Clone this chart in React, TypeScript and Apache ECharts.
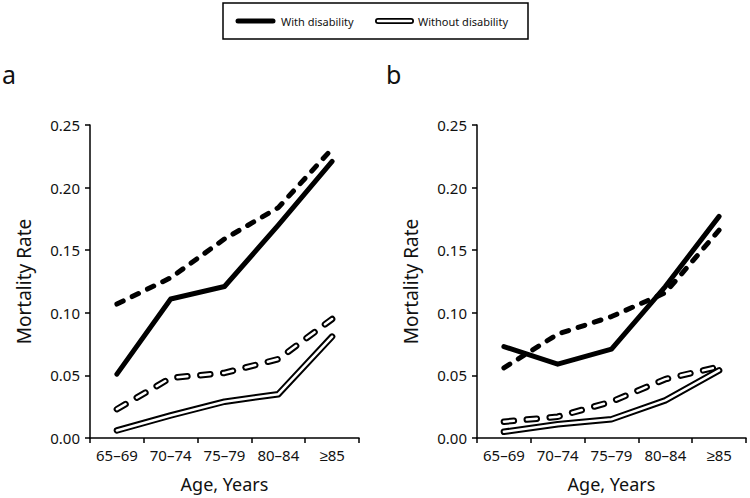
import React, { useEffect, useRef } from "react";
import * as echarts from "echarts";

const categories = ["65–69", "70–74", "75–79", "80–84", "≥85"];
const yTicks = [0, 0.05, 0.1, 0.15, 0.2, 0.25];

// Panel a
const aWithSolid = [0.051, 0.111, 0.121, 0.17, 0.221];
const aWithDashed = [0.107, 0.128, 0.159, 0.184, 0.231];
const aWithoutSolid = [0.006, 0.018, 0.029, 0.035, 0.081];
const aWithoutDashed = [0.023, 0.048, 0.052, 0.063, 0.095];

// Panel b
const bWithSolid = [0.073, 0.059, 0.071, 0.121, 0.177];
const bWithDashed = [0.056, 0.083, 0.097, 0.116, 0.166];
const bWithoutSolid = [0.005, 0.011, 0.015, 0.03, 0.054];
const bWithoutDashed = [0.013, 0.017, 0.029, 0.047, 0.057];

const panelLabels = ["a", "b"];
const legendLabels = ["With disability", "Without disability"];

const FONT = "'Noto Sans', sans-serif";

export default function App() {
  const ref = useRef<HTMLDivElement>(null);

  useEffect(() => {
    if (!ref.current) return;
    const chart = echarts.init(ref.current, null, { renderer: "svg" });

    const grids = [
      { left: 90, top: 125, width: 269, height: 315 },
      { left: 477, top: 125, width: 269, height: 315 },
    ];

    const axisLine = { show: true, lineStyle: { color: "#000", width: 1.5 } };
    const axisTick = { show: true, inside: false, length: 5, lineStyle: { color: "#000", width: 1.5 } };

    const xAxes = grids.map((_, i) => ({
      type: "category",
      gridIndex: i,
      data: categories,
      boundaryGap: true,
      axisLine,
      axisTick: { ...axisTick, alignWithLabel: false },
      axisLabel: { color: "#111", fontSize: 15, fontFamily: FONT, margin: 9, interval: 0 },
      name: "Age, Years",
      nameLocation: "middle",
      nameGap: 37,
      nameTextStyle: { color: "#111", fontSize: 18, fontFamily: FONT },
      splitLine: { show: false },
    }));

    const yAxes = grids.map((_, i) => ({
      type: "value",
      gridIndex: i,
      min: yTicks[0],
      max: yTicks[yTicks.length - 1],
      interval: 0.05,
      axisLine,
      axisTick,
      axisLabel: {
        color: "#111",
        fontSize: 15,
        fontFamily: FONT,
        margin: 10,
        formatter: (v: number) => v.toFixed(2),
      },
      name: "Mortality Rate",
      nameLocation: "middle",
      nameGap: 57,
      nameTextStyle: { color: "#111", fontSize: 19, fontFamily: FONT },
      splitLine: { show: false },
    }));

    const solidBlack = (name: string, data: number[], idx: number) => ({
      name,
      type: "line",
      xAxisIndex: idx,
      yAxisIndex: idx,
      data,
      symbol: "none",
      z: 5,
      lineStyle: { color: "#000", width: 5, cap: "round", join: "round", type: "solid" },
    });
    const dashedBlack = (name: string, data: number[], idx: number) => ({
      name,
      type: "line",
      xAxisIndex: idx,
      yAxisIndex: idx,
      data,
      symbol: "none",
      z: 5,
      lineStyle: { color: "#000", width: 5, cap: "round", join: "round", type: [7, 10] },
    });
    const hollow = (name: string, data: number[], idx: number, dashed: boolean) => [
      {
        name: name + " outline",
        type: "line",
        xAxisIndex: idx,
        yAxisIndex: idx,
        data,
        symbol: "none",
        z: 3,
        lineStyle: { color: "#000", width: 6.5, cap: "round", join: "round", type: dashed ? [10, 13] : "solid" },
      },
      {
        name: name + " fill",
        type: "line",
        xAxisIndex: idx,
        yAxisIndex: idx,
        data,
        symbol: "none",
        z: 4,
        lineStyle: { color: "#fff", width: 2.5, cap: "round", join: "round", type: dashed ? [10, 13] : "solid" },
      },
    ];

    const series: any[] = [
      ...hollow("a without disability dashed", aWithoutDashed, 0, true),
      ...hollow("a without disability solid", aWithoutSolid, 0, false),
      dashedBlack("a with disability dashed", aWithDashed, 0),
      solidBlack("a with disability solid", aWithSolid, 0),
      ...hollow("b without disability dashed", bWithoutDashed, 1, true),
      ...hollow("b without disability solid", bWithoutSolid, 1, false),
      dashedBlack("b with disability dashed", bWithDashed, 1),
      solidBlack("b with disability solid", bWithSolid, 1),
    ];

    const graphic: any[] = [
      {
        type: "rect",
        shape: { x: 223, y: 3, width: 305, height: 36 },
        style: { fill: "#fff", stroke: "#000", lineWidth: 1.5 },
      },
      {
        type: "line",
        shape: { x1: 238, y1: 21, x2: 273, y2: 21 },
        style: { stroke: "#000", lineWidth: 5, lineCap: "round" },
      },
      {
        type: "text",
        x: 281,
        y: 21,
        style: { text: legendLabels[0], fontSize: 11, fontFamily: FONT, fill: "#111", verticalAlign: "middle", align: "left" },
      },
      {
        type: "line",
        shape: { x1: 378, y1: 21, x2: 411, y2: 21 },
        style: { stroke: "#000", lineWidth: 6, lineCap: "round" },
      },
      {
        type: "line",
        shape: { x1: 378, y1: 21, x2: 411, y2: 21 },
        style: { stroke: "#fff", lineWidth: 2.5, lineCap: "round" },
      },
      {
        type: "text",
        x: 418,
        y: 21,
        style: { text: legendLabels[1], fontSize: 11, fontFamily: FONT, fill: "#111", verticalAlign: "middle", align: "left" },
      },
      {
        type: "text",
        x: 2,
        y: 74,
        style: { text: panelLabels[0], fontSize: 25, fontFamily: FONT, fill: "#111", verticalAlign: "middle", align: "left" },
      },
      {
        type: "text",
        x: 386,
        y: 74,
        style: { text: panelLabels[1], fontSize: 25, fontFamily: FONT, fill: "#111", verticalAlign: "middle", align: "left" },
      },
    ];

    chart.setOption({
      animation: false,
      backgroundColor: "#fff",
      grid: grids,
      xAxis: xAxes,
      yAxis: yAxes,
      series,
      graphic,
    });

    return () => chart.dispose();
  }, []);

  return (
    <div
      ref={ref}
      style={{ position: "fixed", left: 0, top: 0, width: 750, height: 498, background: "#fff" }}
    />
  );
}
